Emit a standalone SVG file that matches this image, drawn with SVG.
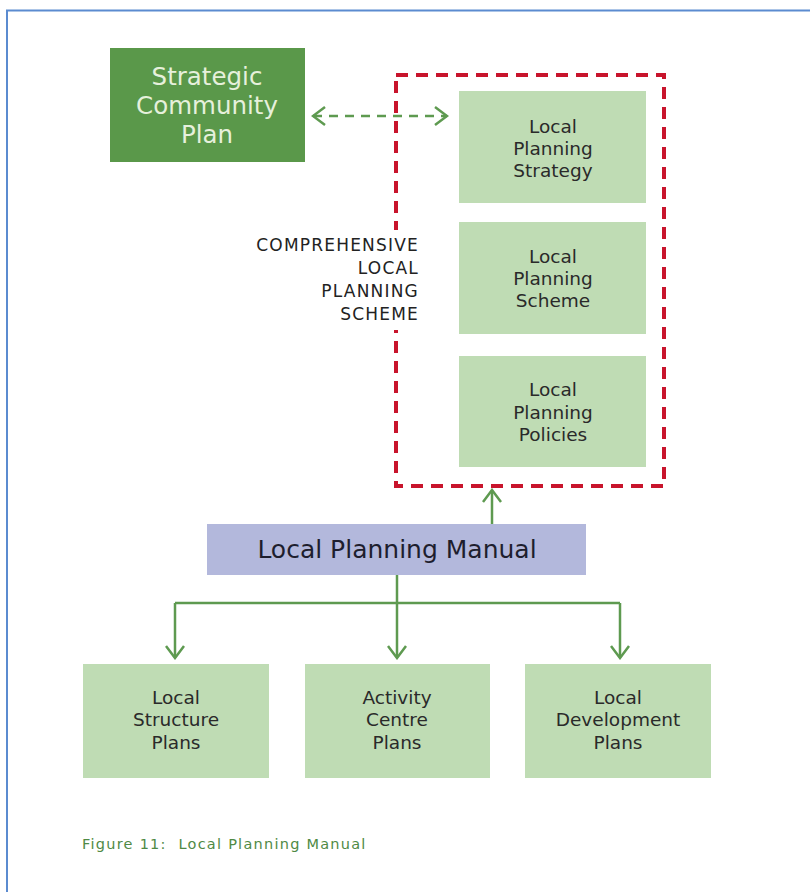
<svg xmlns="http://www.w3.org/2000/svg" width="810" height="892" viewBox="0 0 810 892">
  <style>
    text { font-family: "DejaVu Sans", "Liberation Sans", sans-serif; text-anchor: middle; }
    .light { fill: #bfdcb4; }
    .lbl { font-size: 18.5px; fill: #2a2a2a; }
    .link { stroke: #5e9a50; stroke-width: 2.5; fill: none; }
  </style>
  <defs>
    <marker id="chevBig" viewBox="0 0 20 20" refX="18" refY="10" markerWidth="20" markerHeight="20" markerUnits="userSpaceOnUse" orient="auto-start-reverse">
      <path d="M6,1 L18,10 L6,19" fill="none" stroke="#5e9a50" stroke-width="2.5"/>
    </marker>
  </defs>

  <rect width="810" height="892" fill="#ffffff"/>
  <!-- page frame -->
  <path d="M7,892 V10.5 H810" fill="none" stroke="#5b8bd0" stroke-width="2"/>

  <!-- comprehensive local planning scheme boundary -->
  <g id="scheme-boundary">
    <rect x="396" y="75" width="268" height="411" fill="none" stroke="#c8142c" stroke-width="4" stroke-dasharray="12 8"/>
    <!-- label sits on a white patch that breaks the boundary line -->
    <rect x="248" y="230" width="174" height="100" fill="#ffffff"/>
    <g font-size="17" fill="#222" letter-spacing="1.2">
      <text x="419" y="251" style="text-anchor:end">COMPREHENSIVE</text>
      <text x="419" y="274" style="text-anchor:end">LOCAL</text>
      <text x="419" y="297" style="text-anchor:end">PLANNING</text>
      <text x="419" y="320" style="text-anchor:end">SCHEME</text>
    </g>
  </g>

  <!-- connectors -->
  <g id="connectors">
    <line class="link" x1="313" y1="116" x2="447" y2="116" stroke-dasharray="9 7" marker-start="url(#chevBig)" marker-end="url(#chevBig)"/>
    <line class="link" x1="492" y1="524" x2="492" y2="490" marker-end="url(#chevBig)"/>
    <line class="link" x1="397" y1="575" x2="397" y2="658" marker-end="url(#chevBig)"/>
    <polyline class="link" points="175,603 620,603"/>
    <line class="link" x1="175" y1="603" x2="175" y2="658" marker-end="url(#chevBig)"/>
    <line class="link" x1="620" y1="603" x2="620" y2="658" marker-end="url(#chevBig)"/>
  </g>

  <g id="strategic-community-plan">
    <rect x="110" y="48" width="195" height="114" fill="#5a984a"/>
    <g font-size="24.5" fill="#e6f0dc">
      <text x="207" y="85">Strategic</text>
      <text x="207" y="114">Community</text>
      <text x="207" y="143">Plan</text>
    </g>
  </g>

  <g id="local-planning-strategy">
    <rect class="light" x="459" y="91" width="187" height="112"/>
    <text class="lbl" x="553" y="133">Local</text>
    <text class="lbl" x="553" y="155">Planning</text>
    <text class="lbl" x="553" y="177">Strategy</text>
  </g>

  <g id="local-planning-scheme">
    <rect class="light" x="459" y="222" width="187" height="112"/>
    <text class="lbl" x="553" y="263">Local</text>
    <text class="lbl" x="553" y="285">Planning</text>
    <text class="lbl" x="553" y="307">Scheme</text>
  </g>

  <g id="local-planning-policies">
    <rect class="light" x="459" y="356" width="187" height="111"/>
    <text class="lbl" x="553" y="396">Local</text>
    <text class="lbl" x="553" y="419">Planning</text>
    <text class="lbl" x="553" y="441">Policies</text>
  </g>

  <g id="local-planning-manual">
    <rect x="207" y="524" width="379" height="51" fill="#b3b8dc"/>
    <text x="397" y="558" font-size="25" fill="#1e1e2e">Local Planning Manual</text>
  </g>

  <g id="local-structure-plans">
    <rect class="light" x="83" y="664" width="186" height="114"/>
    <text class="lbl" x="176" y="704">Local</text>
    <text class="lbl" x="176" y="726">Structure</text>
    <text class="lbl" x="176" y="749">Plans</text>
  </g>

  <g id="activity-centre-plans">
    <rect class="light" x="305" y="664" width="185" height="114"/>
    <text class="lbl" x="397" y="704">Activity</text>
    <text class="lbl" x="397" y="726">Centre</text>
    <text class="lbl" x="397" y="749">Plans</text>
  </g>

  <g id="local-development-plans">
    <rect class="light" x="525" y="664" width="186" height="114"/>
    <text class="lbl" x="618" y="704">Local</text>
    <text class="lbl" x="618" y="726">Development</text>
    <text class="lbl" x="618" y="749">Plans</text>
  </g>

  <text x="82" y="849" font-size="14.5" letter-spacing="1.25" fill="#4f8a45" style="text-anchor:start" xml:space="preserve">Figure 11:  Local Planning Manual</text>
</svg>
